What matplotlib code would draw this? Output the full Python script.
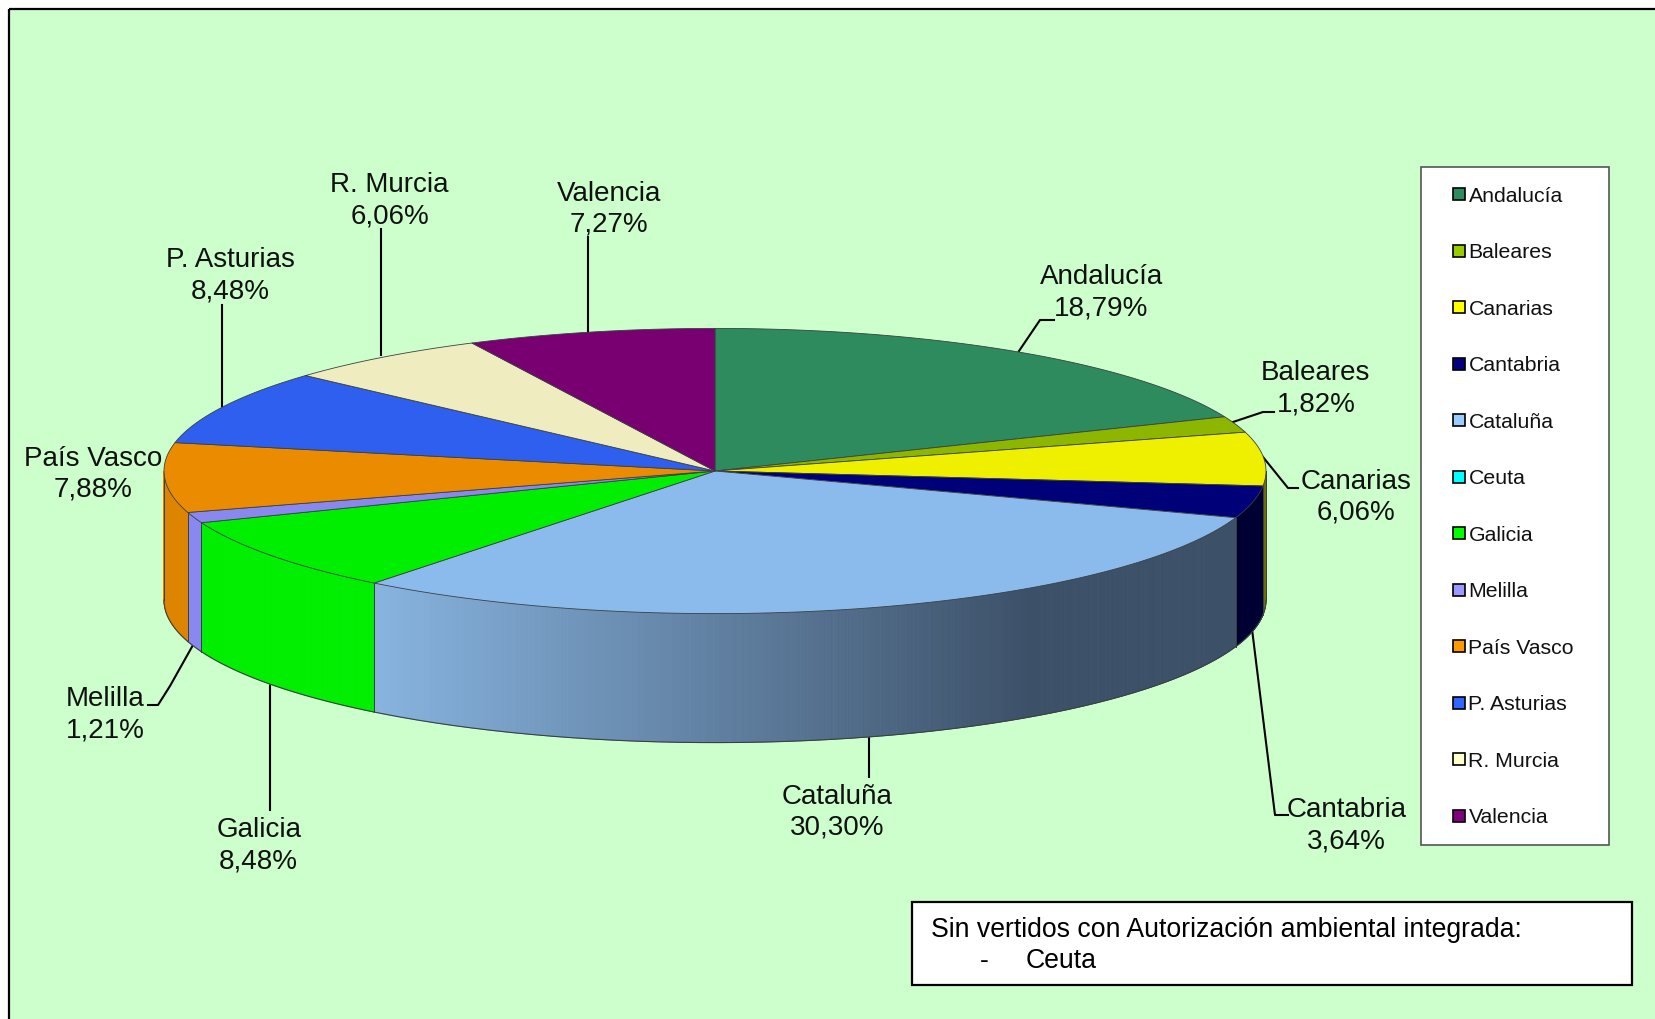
import numpy as np
import matplotlib
matplotlib.use("Agg")
import matplotlib.pyplot as plt
from matplotlib.patches import Polygon, Rectangle
from matplotlib.colors import to_rgb

plt.rcParams['font.family'] = ['Liberation Sans', 'DejaVu Sans']

regions = ["Andalucía", "Baleares", "Canarias", "Cantabria", "Cataluña", "Ceuta",
           "Galicia", "Melilla", "País Vasco", "P. Asturias", "R. Murcia", "Valencia"]
percents = [18.79, 1.82, 6.06, 3.64, 30.30, 0.0, 8.48, 1.21, 7.88, 8.48, 6.06, 7.27]
top_colors = ["#2E8B5E", "#8DB600", "#EFEF00", "#000078", "#8BBBEC", "#00EEEE",
              "#00EE00", "#8888EE", "#EB8C00", "#2F5FEE", "#EFECC0", "#780070"]
wall_colors = ["#1E5C3E", "#5E7A00", "#6E6E00", "#000033", "#88B4E0", "#00AAAA",
               "#00EE00", "#8888EE", "#DD8500", "#2F5FEE", "#EFECC0", "#780070"]
legend_colors = ["#2E8B5E", "#99CC00", "#FFFF00", "#000080", "#99CCFF", "#00FFFF",
                 "#00FF00", "#9999FF", "#FF9900", "#3366FF", "#FFFFCC", "#800080"]

S = 1656 / 1568
CX, CY, RX, RY, DEPTH = 715, 472, 551, 142.6, 129
BG = "#CCFFCC"
EDGE = "#3A4044"

fig = plt.figure(figsize=(16.56, 10.2), dpi=100, facecolor="white")
ax = fig.add_axes([0, 0, 1, 1])
ax.set_xlim(0, 1656)
ax.set_ylim(1020, 0)
ax.axis("off")

# Background panel
ax.add_patch(Rectangle((9, 10), 1660, 1020, fc=BG, ec="none", zorder=0))
ax.plot([9, 9], [1020, 9.5], color="black", lw=1.6, zorder=1, solid_capstyle="butt")
ax.plot([9, 1656], [9.5, 9.5], color="black", lw=1.6, zorder=1, solid_capstyle="butt")


def ell(t_deg):
    t = np.radians(t_deg)
    return CX + RX * np.sin(t), CY - RY * np.cos(t)


total = sum(percents)
edges = np.concatenate([[0], np.cumsum(percents)]) / total * 360


def wall_shade(i, x):
    base = np.array(to_rgb(wall_colors[i]))
    if regions[i] == "Cataluña":
        dark = np.array(to_rgb("#3C5068"))
        f = np.clip((x - 373) / (1030 - 373), 0, 1)
        return tuple(base * (1 - f) + dark * f)
    return tuple(base)


# Side walls (visible front half of the disc)
for i in range(len(regions)):
    a0, a1 = max(edges[i], 90), min(edges[i + 1], 270)
    if a1 <= a0:
        continue
    ts = np.linspace(a0, a1, max(2, int((a1 - a0) * 4) + 2))
    for t0, t1 in zip(ts[:-1], ts[1:]):
        x0, y0 = ell(t0)
        x1, y1 = ell(t1)
        ax.add_patch(Polygon([(x0, y0), (x1, y1), (x1, y1 + DEPTH), (x0, y0 + DEPTH)],
                             fc=wall_shade(i, (x0 + x1) / 2),
                             ec=wall_shade(i, (x0 + x1) / 2), lw=0.6, zorder=2))
    xs, ys = ell(ts)
    ax.plot(xs, ys + DEPTH, color=EDGE, lw=0.8, zorder=3)
    for t in (a0, a1):
        x, y = ell(t)
        ax.plot([x, x], [y, y + DEPTH], color=EDGE, lw=0.7, zorder=3)

# Top slices
for i in range(len(regions)):
    if percents[i] <= 0:
        continue
    ts = np.linspace(edges[i], edges[i + 1], 200)
    xs, ys = ell(ts)
    pts = [(CX, CY)] + list(zip(xs, ys))
    ax.add_patch(Polygon(pts, closed=True, fc=top_colors[i], ec=EDGE, lw=0.6,
                         joinstyle="round", zorder=4))

# Data labels
label_pos = {
    "Andalucía": (1043, 275), "Baleares": (1246, 366), "Canarias": (1284, 469),
    "Cantabria": (1275, 780), "Cataluña": (793, 767), "Galicia": (245, 799),
    "Melilla": (100, 675), "País Vasco": (88, 447), "P. Asturias": (218, 259),
    "R. Murcia": (369, 188), "Valencia": (577, 196),
}
for name, pct in zip(regions, percents):
    if pct <= 0:
        continue
    lx, ly = label_pos[name]
    txt = f"{name}\n" + f"{pct:.2f}%".replace(".", ",")
    ax.text(lx * S, (ly + 2) * S, txt, ha="center", va="center", fontsize=20,
            color="#111111", linespacing=1.25, zorder=6)

# Leader lines
leaders = [
    [(1019, 352), (1040, 321), (1054, 321)],
    [(1233, 423), (1263, 413), (1274, 413)],
    [(1263, 458), (1288, 489), (1298, 489)],
    [(1252, 630), (1275, 816), (1288, 816)],
    [(869, 736), (869, 778)],
    [(270, 685), (270, 811)],
    [(193, 646), (170, 687), (158, 706), (148, 706)],
    [(222, 306), (222, 407)],
    [(381, 230), (381, 356)],
    [(588, 238), (588, 333)],
]
for seg in leaders:
    xs, ys = zip(*seg)
    ax.plot(xs, ys, color="black", lw=1.5, zorder=1.5, solid_joinstyle="round")

# Legend
ax.add_patch(Rectangle((1421.5, 168), 187.5, 678, fc="white", ec="#555555", lw=1.2, zorder=5))
for i, (name, col) in enumerate(zip(regions, legend_colors)):
    y = (185 + 53.5 * i) * S
    ax.add_patch(Rectangle((1453.5, y - 6), 12, 12, fc=col, ec="black", lw=1.2, zorder=6))
    ax.text(1468.5, y + 1, name, ha="left", va="center", fontsize=15.3, color="#111111", zorder=6)

# Note box
ax.add_patch(Rectangle((912, 902.5), 720, 83, fc="white", ec="black", lw=1.6, zorder=5))
ax.text(931, 930, "Sin vertidos con Autorización ambiental integrada:", ha="left", va="center",
        fontsize=19.2, color="black", zorder=6)
ax.text(980, 961, "-", ha="left", va="center", fontsize=19.2, color="black", zorder=6)
ax.text(1026, 961, "Ceuta", ha="left", va="center", fontsize=19.2, color="black", zorder=6)

fig.savefig("out.png", dpi=100, facecolor="white")
